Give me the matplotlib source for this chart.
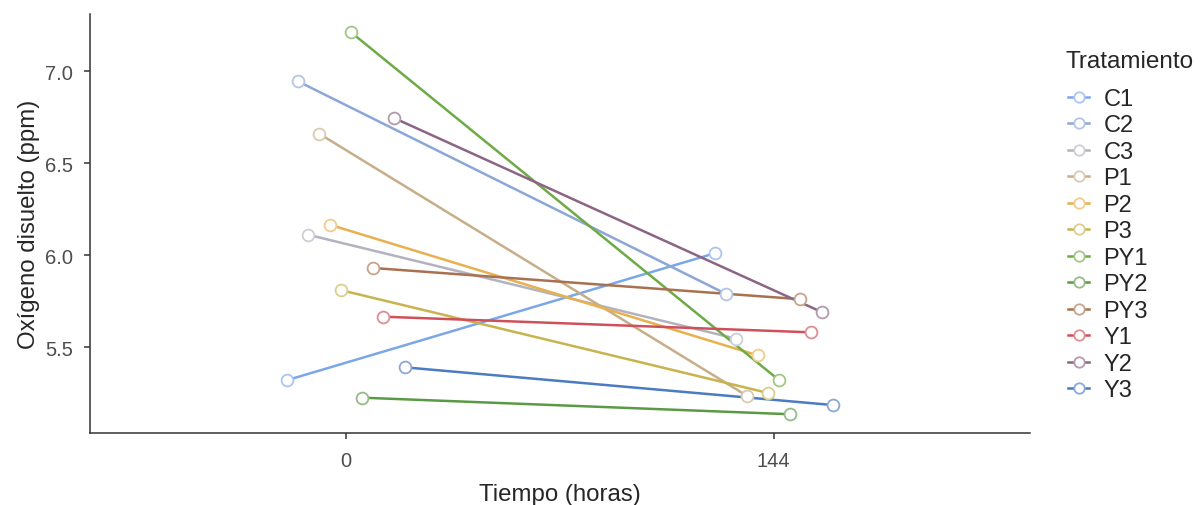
import matplotlib
matplotlib.use("Agg")
import matplotlib.pyplot as plt
from matplotlib.lines import Line2D
import numpy as np

plt.rcParams['font.family'] = ['Liberation Sans', 'DejaVu Sans']

# Treatments and dissolved oxygen (ppm) at each sampling time
tratamientos = ["C1", "C2", "C3", "P1", "P2", "P3", "PY1", "PY2", "PY3", "Y1", "Y2", "Y3"]
tiempos = [0, 144]
oxigeno_0 = [5.32, 6.945, 6.11, 6.66, 6.165, 5.81, 7.21, 5.225, 5.93, 5.665, 6.745, 5.39]
oxigeno_144 = [6.01, 5.79, 5.545, 5.235, 5.455, 5.25, 5.32, 5.135, 5.76, 5.58, 5.69, 5.185]

colores = ["#7BA7E8", "#8CA6D6", "#B2B3BE", "#C6AE88", "#E8B04F", "#C8B34F",
           "#6EAA45", "#5B9A45", "#A8714F", "#D0505A", "#8C6484", "#4B7BC0"]

# horizontal dodge between treatments (hours)
paso = 3.6
n = len(tratamientos)

fig = plt.figure(figsize=(12, 5.06), dpi=100)
ax = fig.add_axes([0.075, 0.1423, 0.783, 0.828])

def aclarar(c, a=0.65):
    rgb = np.array(matplotlib.colors.to_rgb(c))
    return tuple(rgb * a + (1 - a))

for i, (nombre, c) in enumerate(zip(tratamientos, colores)):
    off = (i - (n - 1) / 2) * paso
    xs = [t + off for t in tiempos]
    ys = [oxigeno_0[i], oxigeno_144[i]]
    ax.plot(xs, ys, color=c, lw=1.8, zorder=2, solid_capstyle='butt')
    ax.plot(xs, ys, ls='none', marker='o', ms=8.5, mfc='white',
            mec=aclarar(c), mew=1.3, zorder=3)

ax.set_xlim(-86.1, 230.1)
ax.set_ylim(5.033, 7.31)
ax.set_xticks(tiempos)
ax.set_xticklabels([str(t) for t in tiempos])
ax.set_yticks([5.5, 6.0, 6.5, 7.0])
ax.set_yticklabels(["5.5", "6.0", "6.5", "7.0"])

for s in ["top", "right"]:
    ax.spines[s].set_visible(False)
for s in ["left", "bottom"]:
    ax.spines[s].set_color("#333333")
    ax.spines[s].set_linewidth(1.1)
ax.tick_params(axis='both', colors="#333333", labelcolor="#4D4D4D",
               labelsize=14.5, length=4, width=1.1)
ax.tick_params(axis='x', pad=9)
ax.tick_params(axis='y', pad=8.5)

ax.set_xlabel("Tiempo (horas)", fontsize=17.3, color="#262626", labelpad=9.5)
ax.set_ylabel("Oxígeno disuelto (ppm)", fontsize=17.3, color="#262626", labelpad=3)

# legend: title placed separately, keys below it
fig.text(1065 / 1200, 1 - 62 / 506, "Tratamiento", fontsize=17.5,
         color="#262626", ha='left', va='center')
handles = [Line2D([0], [0], color=c, lw=1.8, marker='o', ms=7.5, mfc='white',
                  mec=aclarar(c), mew=1.3) for c in colores]
leg = fig.legend(handles, tratamientos, loc='upper left',
                 bbox_to_anchor=(1068 / 1200, 1 - 89 / 506), frameon=False,
                 fontsize=17, handlelength=0.9,
                 handletextpad=0.6, labelspacing=0.19, borderaxespad=0,
                 borderpad=0)
for t in leg.get_texts():
    t.set_color("#262626")

fig.savefig("out.png", dpi=100)
